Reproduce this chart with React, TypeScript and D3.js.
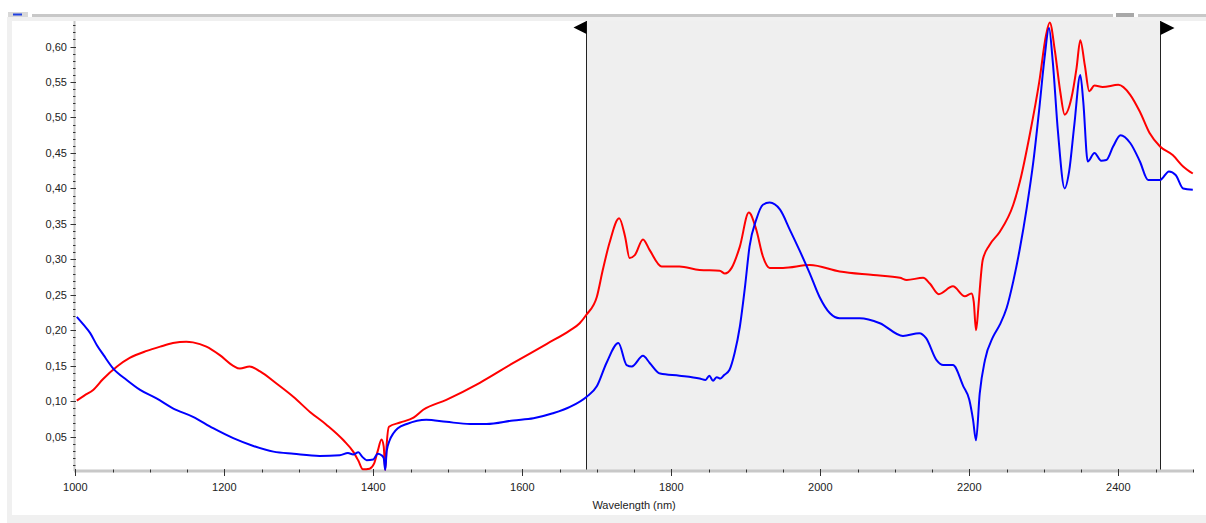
import React from "react";
import * as d3 from "d3";

// Reflectance spectra, [wavelength nm, value]
const redSpectrum: [number, number][] = [
  [1002, 0.101], [1012, 0.108], [1024, 0.116], [1037, 0.131], [1056, 0.149], [1073, 0.161],
  [1096, 0.171], [1114, 0.177], [1131, 0.182], [1149, 0.184], [1158, 0.183], [1176, 0.177],
  [1194, 0.165], [1212, 0.150], [1221, 0.146], [1234, 0.149], [1248, 0.142], [1270, 0.125],
  [1293, 0.106], [1315, 0.085], [1337, 0.067], [1360, 0.045], [1373, 0.029], [1380, 0.016],
  [1386, 0.004], [1395, 0.005], [1401, 0.012], [1406, 0.030], [1411, 0.046], [1414, 0.036],
  [1416, 0.003], [1418, 0.040], [1421, 0.064], [1436, 0.070], [1454, 0.077], [1467, 0.088],
  [1498, 0.102], [1543, 0.126], [1588, 0.154], [1633, 0.181], [1664, 0.200], [1677, 0.210],
  [1686, 0.222], [1700, 0.247], [1708, 0.285], [1717, 0.323], [1730, 0.358], [1738, 0.332],
  [1744, 0.302], [1751, 0.306], [1762, 0.328], [1771, 0.313], [1787, 0.290], [1811, 0.290],
  [1838, 0.285], [1865, 0.284], [1872, 0.280], [1881, 0.288], [1892, 0.318], [1904, 0.366],
  [1914, 0.342], [1923, 0.304], [1932, 0.288], [1950, 0.288], [1986, 0.292], [2026, 0.283],
  [2071, 0.278], [2107, 0.274], [2116, 0.271], [2138, 0.274], [2147, 0.266], [2159, 0.251],
  [2178, 0.262], [2194, 0.248], [2203, 0.252], [2206, 0.240], [2209, 0.200], [2212, 0.230],
  [2214, 0.257], [2218, 0.299], [2227, 0.320], [2241, 0.339], [2259, 0.377], [2268, 0.410],
  [2281, 0.475], [2294, 0.551], [2303, 0.616], [2308, 0.634], [2315, 0.593], [2322, 0.537],
  [2328, 0.504], [2337, 0.527], [2344, 0.570], [2349, 0.609], [2355, 0.574], [2361, 0.537],
  [2368, 0.545], [2379, 0.543], [2400, 0.546], [2416, 0.532], [2429, 0.508], [2442, 0.478],
  [2456, 0.459], [2473, 0.447], [2487, 0.431], [2500, 0.421],
];

const blueSpectrum: [number, number][] = [
  [1002, 0.219], [1011, 0.208], [1020, 0.196], [1029, 0.179], [1038, 0.165], [1051, 0.146],
  [1069, 0.130], [1087, 0.116], [1109, 0.104], [1131, 0.090], [1158, 0.078], [1185, 0.062],
  [1212, 0.048], [1239, 0.037], [1266, 0.029], [1293, 0.026], [1328, 0.023], [1355, 0.024],
  [1366, 0.027], [1373, 0.025], [1380, 0.028], [1385, 0.022], [1391, 0.017], [1400, 0.018],
  [1406, 0.026], [1411, 0.024], [1414, 0.020], [1416, 0.003], [1418, 0.030],
  [1422, 0.045], [1427, 0.055], [1433, 0.062], [1445, 0.068], [1471, 0.074], [1498, 0.071],
  [1530, 0.068], [1552, 0.068], [1588, 0.073], [1615, 0.076], [1641, 0.083], [1664, 0.092],
  [1686, 0.106], [1700, 0.121], [1713, 0.154], [1729, 0.182], [1740, 0.151], [1747, 0.149],
  [1762, 0.164], [1771, 0.154], [1785, 0.139], [1811, 0.136], [1838, 0.132], [1846, 0.130],
  [1851, 0.136], [1856, 0.129], [1861, 0.134], [1866, 0.132], [1871, 0.137], [1878, 0.144],
  [1885, 0.168], [1892, 0.205], [1899, 0.262], [1905, 0.318], [1914, 0.356], [1923, 0.377],
  [1932, 0.380], [1946, 0.370], [1959, 0.342], [1972, 0.313], [1986, 0.280], [1999, 0.247],
  [2013, 0.224], [2026, 0.217], [2053, 0.217], [2080, 0.210], [2111, 0.192], [2133, 0.196],
  [2142, 0.189], [2156, 0.158], [2165, 0.151], [2178, 0.151], [2192, 0.121], [2200, 0.102],
  [2205, 0.074], [2209, 0.045], [2214, 0.111], [2221, 0.158], [2232, 0.191], [2241, 0.208],
  [2250, 0.231], [2259, 0.269], [2268, 0.316], [2277, 0.372], [2286, 0.438], [2294, 0.513],
  [2301, 0.584], [2307, 0.626], [2312, 0.579], [2319, 0.480], [2328, 0.400], [2334, 0.424],
  [2341, 0.490], [2349, 0.560], [2353, 0.522], [2359, 0.438], [2368, 0.450], [2377, 0.439],
  [2384, 0.440], [2393, 0.459], [2403, 0.475], [2416, 0.464], [2429, 0.438], [2440, 0.412],
  [2456, 0.412], [2468, 0.424], [2477, 0.419], [2487, 0.400], [2500, 0.398],
];

const xMajorTicks = [1000, 1200, 1400, 1600, 1800, 2000, 2200, 2400];
const yMajorTicks = [0.05, 0.1, 0.15, 0.2, 0.25, 0.3, 0.35, 0.4, 0.45, 0.5, 0.55, 0.6];
const xLabel = "Wavelength (nm)";

// Selected wavelength window
const selectionStart = 1686;
const selectionEnd = 2456;

const W = 1206;
const H = 523;
const FONT = "'Liberation Sans', Arial, sans-serif";

export default function App() {
  const x = d3.scaleLinear().domain([1000, 2500]).range([75.3, 1192.8]);
  const y = d3.scaleLinear().domain([0, 0.636]).range([472.2, 21]);
  const axisY = 471;
  const plotTop = 21;

  const line = d3
    .line<[number, number]>()
    .x((d) => x(d[0]))
    .y((d) => y(d[1]))
    .curve(d3.curveMonotoneX);

  const xMinor = d3.range(1000, 2501, 50);
  const yMinor = d3.range(1, 64).map((i) => i / 100);
  const fmt = (v: number) => v.toFixed(2).replace(".", ",");

  const sx0 = Math.round(x(selectionStart)) + 0.5;
  const sx1 = Math.round(x(selectionEnd)) + 0.5;

  return (
    <svg
      width={W}
      height={H}
      style={{ position: "absolute", left: 0, top: 0, display: "block" }}
      fontFamily={FONT}
    >
      <rect x={0} y={0} width={W} height={H} fill="#ffffff" />
      {/* window frame */}
      <rect x={7} y={17} width={W - 7} height={H - 17} fill="#f0f0f0" />
      <rect x={12} y={21} width={W - 12} height={494} fill="#ffffff" />

      {/* top slider strip */}
      <rect x={8} y={12} width={20} height={5} fill="#d8d8d8" />
      <line x1={13} x2={22} y1={14.5} y2={14.5} stroke="#2040e0" strokeWidth={2} />
      <rect x={32} y={14} width={1081} height={3} fill="#c8c8c8" />
      <rect x={1116} y={13} width={18} height={4} fill="#a8a8a8" />
      <rect x={1138} y={14} width={68} height={3} fill="#c8c8c8" />

      {/* selected region */}
      <rect x={sx0} y={plotTop} width={sx1 - sx0} height={axisY - plotTop} fill="#efefef" />
      <line x1={sx0} x2={sx0} y1={plotTop} y2={axisY} stroke="#222" strokeWidth={1} />
      <line x1={sx1} x2={sx1} y1={plotTop} y2={axisY} stroke="#222" strokeWidth={1} />
      <path d={`M${sx0},21 L${sx0},34 L${sx0 - 13},27.5 Z`} fill="#000" />
      <path d={`M${sx1},21 L${sx1},35 L${sx1 + 14},28 Z`} fill="#000" />

      {/* y axis */}
      <line x1={74.5} x2={74.5} y1={plotTop} y2={axisY} stroke="#c8c8c8" strokeWidth={2} />
      {yMinor.map((v) => (
        <line key={"ym" + v} x1={73} x2={75.5} y1={Math.round(y(v)) + 0.5} y2={Math.round(y(v)) + 0.5} stroke="#333" />
      ))}
      {yMajorTicks.map((v) => (
        <g key={"y" + v}>
          <line x1={70.5} x2={76} y1={Math.round(y(v)) + 0.5} y2={Math.round(y(v)) + 0.5} stroke="#333" />
          <text x={67} y={y(v) + 4} textAnchor="end" fontSize={11} fill="#222">
            {fmt(v)}
          </text>
        </g>
      ))}

      {/* x axis */}
      <line x1={74} x2={1193} y1={axisY} y2={axisY} stroke="#c8c8c8" strokeWidth={3} />
      {xMinor.map((v) => (
        <line key={"xm" + v} x1={Math.round(x(v)) + 0.5} x2={Math.round(x(v)) + 0.5} y1={469.5} y2={472.5} stroke="#333" />
      ))}
      {xMajorTicks.map((v) => (
        <g key={"x" + v}>
          <line x1={Math.round(x(v)) + 0.5} x2={Math.round(x(v)) + 0.5} y1={469} y2={476} stroke="#333" />
          <text x={x(v)} y={491} textAnchor="middle" fontSize={11} fill="#222">
            {v}
          </text>
        </g>
      ))}
      <text x={(x(1000) + x(2500)) / 2} y={509} textAnchor="middle" fontSize={11} fill="#222">
        {xLabel}
      </text>

      {/* spectra */}
      <path d={line(redSpectrum) ?? ""} fill="none" stroke="#ff0000" strokeWidth={2} strokeLinejoin="round" />
      <path d={line(blueSpectrum) ?? ""} fill="none" stroke="#0000ff" strokeWidth={2} strokeLinejoin="round" />
    </svg>
  );
}
